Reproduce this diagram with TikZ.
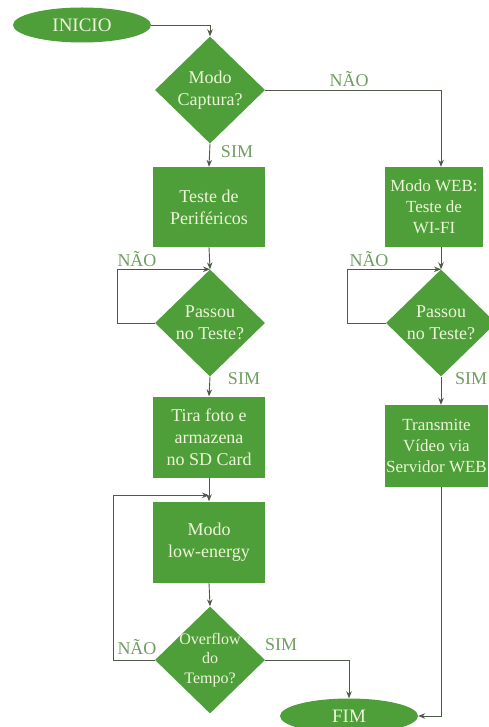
\documentclass[tikz,border=0pt]{standalone}
\usepackage{fontspec}
\setmainfont{Liberation Serif}
\usetikzlibrary{shapes.geometric,arrows.meta}
\definecolor{leafgreen}{HTML}{4E9E3A}
\definecolor{paletext}{HTML}{EEF6D8}
\definecolor{wiregray}{HTML}{4D5A4A}
\definecolor{tagcolor}{HTML}{6F9D5F}

\begin{document}
\begin{tikzpicture}[x=1pt, y=-1pt,
  terminal/.style={ellipse, fill=leafgreen, text=paletext, minimum width=138pt, minimum height=35pt, inner sep=0pt, font=\fontsize{19}{20}\selectfont},
  process/.style={rectangle, fill=leafgreen, text=paletext, align=center, inner sep=0pt, font=\fontsize{18}{22}\selectfont},
  decision/.style={diamond, fill=leafgreen, text=paletext, align=center, inner sep=0pt, minimum width=110pt, minimum height=107pt, font=\fontsize{18}{22}\selectfont},
  wire/.style={draw=wiregray, line width=0.9pt, -{Stealth[length=7pt,width=5.5pt]}},
  tag/.style={text=tagcolor, font=\fontsize{18}{20}\selectfont, inner sep=0pt}]
\useasboundingbox (0,0) rectangle (489,727);

% start and end
\node[terminal] (inicio) at (82,25) {INICIO};
\node[terminal] (fim) at (349,716) {FIM};

% left column (capture mode)
\node[decision] (captura) at (210,90) {Modo\\Captura?};
\node[process, minimum width=112pt, minimum height=80pt] (perif) at (209,207) {Teste de\\Periféricos};
\node[decision] (passou) at (210,323) {Passou\\no Teste?};
\node[process, minimum width=112pt, minimum height=81pt] (foto) at (209,437) {Tira foto e\\armazena\\no SD Card};
\node[process, minimum width=112pt, minimum height=81pt] (lowenergy) at (209,542) {Modo\\low-energy};
\node[decision, inner sep=-5pt, font=\fontsize{16}{19.5}\selectfont] (overflow) at (210,660) {Overflow\\do\\Tempo?};

% right column (web mode)
\node[process, minimum width=98pt, minimum height=80pt, font=\fontsize{17}{21}\selectfont] (wifi) at (434,207) {Modo WEB:\\Teste de\\WI-FI};
\node[decision] (passouweb) at (441,323) {Passou\\no Teste?};
\node[process, minimum width=103pt, minimum height=82pt, font=\fontsize{17}{21}\selectfont] (video) at (436.5,446) {Transmite\\Vídeo via\\Servidor WEB};

% connectors
\draw[wire] (inicio.east) -| (captura.north);
\draw[wire] (captura.east) -| (wifi.north -| passouweb.north);
\draw[wire] (captura.south) -- (perif.north);
\draw[wire] (perif.south) -- (passou.north);
\draw[wire] (passou.west) -- ++(-37,0) |- (passou.north);
\draw[wire] (passou.south) -- (foto.north);
\draw[wire] (foto.south) -- (lowenergy.north);
\draw[wire] (lowenergy.south) -- (overflow.north);
\draw[wire] (overflow.west) -- ++(-41,0) |- ([yshift=6pt]lowenergy.north);
\draw[wire] (overflow.east) -| (fim.north);
\draw[wire] (wifi.south -| passouweb.north) -- (passouweb.north);
\draw[wire] (passouweb.west) -- ++(-38,0) |- (passouweb.north);
\draw[wire] (passouweb.south) -- (video.north -| passouweb.south);
\draw[wire] (video.south -| passouweb.south) |- (fim.east);

% branch labels
\node[tag] (naocaptura) at (349,79) {NÃO};
\node[tag] (simcaptura) at (237,152) {SIM};
\node[tag] (naopassou) at (137,259) {NÃO};
\node[tag] (simpassou) at (244,379) {SIM};
\node[tag] (naoweb) at (369,259) {NÃO};
\node[tag] (simweb) at (471,379) {SIM};
\node[tag] (naooverflow) at (137,647) {NÃO};
\node[tag] (simoverflow) at (281,645) {SIM};
\end{tikzpicture}
\end{document}
